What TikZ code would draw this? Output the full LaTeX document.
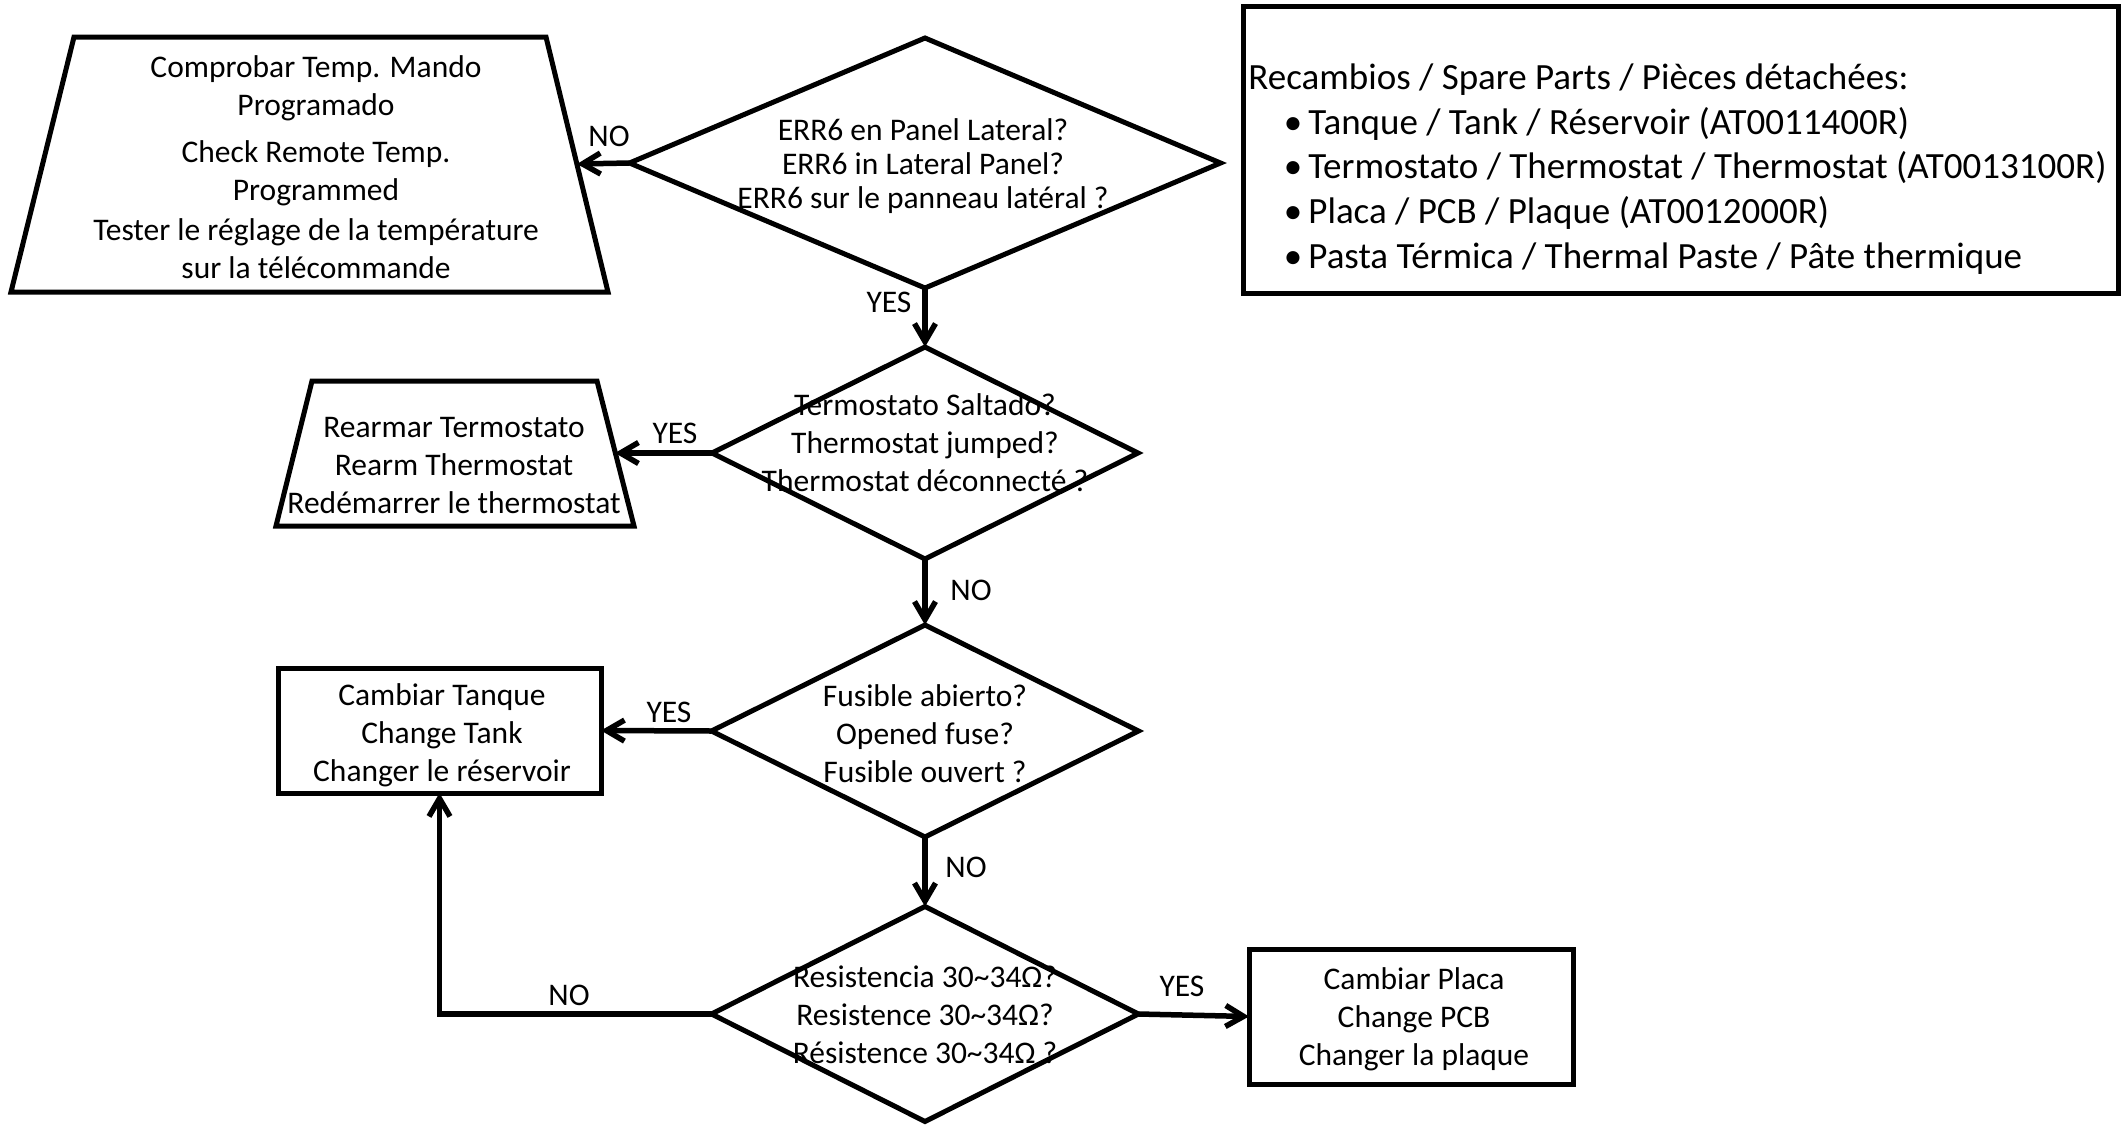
\documentclass[tikz,border=0pt]{standalone}
\usepackage{fontspec}
\setmainfont{Carlito}
\usetikzlibrary{shapes.geometric,arrows.meta}
\begin{document}
\begin{tikzpicture}[x=0.5pt,y=-0.5pt,
  shp/.style={draw=black, line width=2.5pt, inner sep=0pt, outer sep=0pt, line join=miter},
  dia/.style={shp, shape=diamond},
  box/.style={shp, rectangle},
  txt/.style={align=center, inner sep=0pt, font=\fontsize{15.75pt}{19pt}\selectfont},
  lbl/.style={inner sep=0pt, font=\fontsize{15.75pt}{19pt}\selectfont},
  conn/.style={line width=2.75pt, -{Straight Barb[length=9pt,width=10.5pt]}},
  ptxt/.style={inner sep=0pt, anchor=base west, font=\fontsize{18.5pt}{22pt}\selectfont},
  pbul/.style={inner sep=0pt, anchor=base, font=\fontsize{18.5pt}{22pt}\selectfont}
]
\useasboundingbox (0,0) rectangle (2121,1125);

% trapezoid 1
\draw[shp] (11,292) -- (74,37) -- (546,37) -- (608,292) -- cycle;
\coordinate (t1e) at (577,164);
\node[txt] (t1txt) at (316,167) {Comprobar Temp. Mando\\Programado\\[4.5pt]Check Remote Temp.\\Programmed\\[1pt]Tester le réglage de la température\\sur la télécommande};

\node[dia, minimum width=295.5pt, minimum height=125pt] (d1) at (925,163) {};
\node[txt, font=\fontsize{15.75pt}{17pt}\selectfont] (d1txt) at (923,166) {ERR6 en Panel Lateral?\\ERR6 in Lateral Panel?\\ERR6 sur le panneau latéral ?};

\node[box, minimum width=437.5pt, minimum height=143.5pt] (parts) at (1680.5,149.5) {};
\node[ptxt] (p0) at (1248,89) {Recambios / Spare Parts / Pièces détachées:};
\node[pbul] (b1) at (1293,134) {\textbullet};
\node[ptxt] (p1) at (1308,134) {Tanque / Tank / Réservoir (AT0011400R)};
\node[pbul] (b2) at (1293,178) {\textbullet};
\node[ptxt] (p2) at (1308,178) {Termostato / Thermostat / Thermostat (AT0013100R)};
\node[pbul] (b3) at (1293,223) {\textbullet};
\node[ptxt] (p3) at (1308,223) {Placa / PCB / Plaque (AT0012000R)};
\node[pbul] (b4) at (1293,268) {\textbullet};
\node[ptxt] (p4) at (1308,268) {Pasta Térmica / Thermal Paste / Pâte thermique};

\node[dia, minimum width=213pt, minimum height=106pt] (d2) at (925,453) {};
\node[txt] (d2txt) at (925,443) {Termostato Saltado?\\Thermostat jumped?\\Thermostat déconnecté ?};

% trapezoid 2
\draw[shp] (276,526) -- (312,381) -- (597,381) -- (634,526) -- cycle;
\coordinate (t2e) at (615,453);
\node[txt] (t2txt) at (454,466) {Rearmar Termostato\\Rearm Thermostat\\Redémarrer le thermostat};

\node[dia, minimum width=213.5pt, minimum height=106pt] (d3) at (925,731) {};
\node[txt] (d3txt) at (925,734) {Fusible abierto?\\Opened fuse?\\Fusible ouvert ?};

\node[box, minimum width=161.5pt, minimum height=62.5pt] (box3) at (439.5,730.5) {};
\node[txt] (b3txt) at (442,735) {Cambiar Tanque\\Change Tank\\Changer le réservoir};

\node[dia, minimum width=213.5pt, minimum height=107.5pt] (d4) at (925,1014) {};
\node[txt] (d4txt) at (925,1015) {Resistencia 30\textasciitilde34Ω?\\Resistence 30\textasciitilde34Ω?\\Résistence 30\textasciitilde34Ω ?};

\node[box, minimum width=162pt, minimum height=67.5pt] (box4) at (1411,1016.5) {};
\node[txt] (b4txt) at (1414,1019) {Cambiar Placa\\Change PCB\\Changer la plaque};

% connectors
\draw[conn] (d1.west) -- (t1e);
\draw[conn] (d1.south) -- (d2.north);
\draw[conn] (d2.west) -- (t2e);
\draw[conn] (d2.south) -- (d3.north);
\draw[conn] (d3.west) -- (box3.east);
\draw[conn] (d3.south) -- (d4.north);
\draw[conn] (d4.west) -| (box3.south);
\draw[conn] (d4.east) -- (box4.west);

% labels
\node[lbl] (l1) at (609,136) {NO};
\node[lbl] (l2) at (889,302) {YES};
\node[lbl] (l3) at (675,433) {YES};
\node[lbl] (l4) at (971,590) {NO};
\node[lbl] (l5) at (669,712) {YES};
\node[lbl] (l6) at (966,867) {NO};
\node[lbl] (l7) at (569,995) {NO};
\node[lbl] (l8) at (1182,986) {YES};
\end{tikzpicture}
\end{document}
